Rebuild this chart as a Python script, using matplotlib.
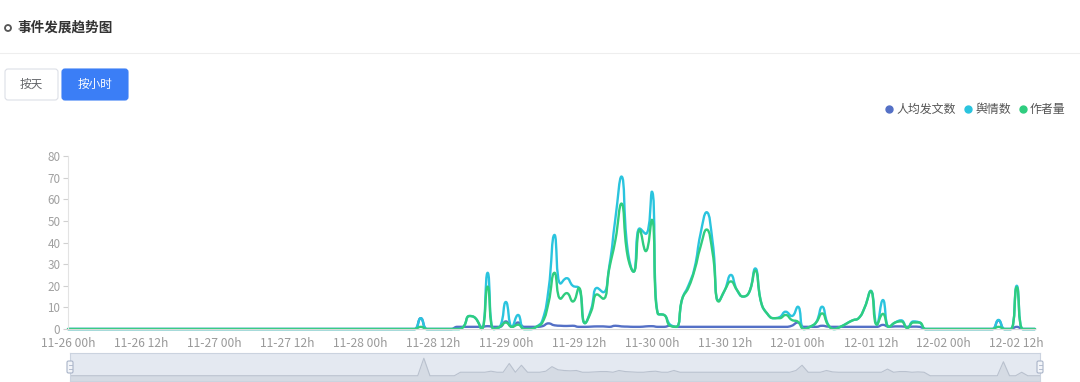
import numpy as np
import pandas as pd
import matplotlib
matplotlib.use("Agg")
import matplotlib.pyplot as plt
from matplotlib.path import Path
from matplotlib.patches import PathPatch, FancyBboxPatch, Circle

plt.rcParams['font.family'] = ['Noto Sans CJK SC', 'DejaVu Sans']

# ---------------- data ----------------
title = "事件发展趋势图"
buttons = ["按天", "按小时"]
series_names = ["人均发文数", "舆情数", "作者量"]
series_colors = ["#5470c6", "#2ac4de", "#2fcd7f"]

hours = pd.date_range("2023-11-26 00:00", periods=160, freq="h")
categories = [t.strftime("%m-%d %Hh") for t in hours]
tick_labels = ["11-26 00h", "11-26 12h", "11-27 00h", "11-27 12h", "11-28 00h",
               "11-28 12h", "11-29 00h", "11-29 12h", "11-30 00h", "11-30 12h",
               "12-01 00h", "12-01 12h", "12-02 00h", "12-02 12h"]
y_ticks = [0, 10, 20, 30, 40, 50, 60, 70, 80]

posts_per_author = (
    [0] * 48 +
    [0, 0, 0, 0, 0, 0, 0, 0, 0, 0, 5, 0] +
    [0, 0, 0, 0, 1, 1, 1, 1, 1, 1.3, 1, 1] +
    [3.5, 1, 3, 1, 1, 1, 1.3, 2.6, 1.7, 1.5, 1.4, 1.5] +
    [1, 1, 1.1, 1.2, 1.2, 1, 1.5, 1.2, 1.1, 1, 1, 1.2] +
    [1.3, 1, 1, 1.5, 1, 1, 1, 1, 1, 1, 1, 1] +
    [1, 1, 1, 1, 1, 1, 1, 1, 1, 1, 1, 1.5] +
    [3, 1, 1, 1, 1.5, 1.1, 1, 1, 1, 1, 1, 1] +
    [1, 1, 1.9, 1, 1.2, 1.2, 1, 1.1, 1, 0, 0, 0] +
    [0, 0, 0, 0, 0, 0, 0, 0, 0, 4, 0, 0] +
    [1, 0, 0, 0]
)
mentions = (
    [0] * 48 +
    [0, 0, 0, 0, 0, 0, 0, 0, 0, 0, 5, 0] +
    [0, 0, 0, 0, 0, 1, 6, 5, 0, 26, 0, 1] +
    [12.5, 1, 6.5, 0, 0, 1, 4, 18, 43.5, 21, 23.5, 20] +
    [19, 2.7, 9, 19, 17, 29, 51, 70.5, 37, 26.5, 46.5, 44] +
    [63.5, 7, 6.5, 2, 1, 14, 20, 28, 44, 54, 40, 13] +
    [18, 25, 18, 15, 17, 28, 12, 7, 5, 5.5, 8, 6] +
    [10.3, 0, 1, 3, 10.3, 2, 0, 1, 2.5, 4, 5, 10] +
    [17.7, 2, 13.4, 1, 3, 4, 0.5, 3.5, 3, 0, 0, 0] +
    [0, 0, 0, 0, 0, 0, 0, 0, 0, 4.2, 0, 0] +
    [20, 0, 0, 0]
)
authors = (
    [0] * 48 +
    [0, 0, 0, 0, 0, 0, 0, 0, 0, 0, 1, 0] +
    [0, 0, 0, 0, 0, 1, 6, 5, 0, 19.6, 0, 1] +
    [3, 1, 2, 0, 0, 1, 3, 12, 26, 14, 16.6, 12.7] +
    [19, 2.7, 8, 16, 14, 28, 41, 58, 34, 26.5, 45.8, 36] +
    [50.5, 7, 6.5, 1.5, 1, 14, 19, 27, 38, 46, 35, 12.7] +
    [18, 22, 18, 15, 17, 27, 12, 7, 5, 5, 6.5, 4.2] +
    [3.4, 0, 1, 3, 7.2, 1.8, 0, 1, 2.5, 4, 5, 10] +
    [17.5, 2, 7, 1, 3, 3.5, 0.5, 3, 3, 0, 0, 0] +
    [0, 0, 0, 0, 0, 0, 0, 0, 0, 1, 0, 0] +
    [19.3, 0, 0, 0]
)
series_values = [posts_per_author, mentions, authors]

# ---------------- figure ----------------
W, H = 1080, 382
fig = plt.figure(figsize=(W / 100, H / 100), dpi=100)
fig.patch.set_facecolor("white")

# pixel overlay for page decorations
bg = fig.add_axes([0, 0, 1, 1])
bg.set_xlim(0, W)
bg.set_ylim(H, 0)
bg.axis("off")

bg.add_patch(Circle((8, 28), 3.0, facecolor="white", edgecolor="#555555", lw=1.3))
bg.text(17, 28, title, ha="left", va="center", fontsize=9.8, fontweight="bold", color="#333333")
bg.plot([0, W], [53, 53], color="#eeeeee", lw=0.8)

btn_boxes = [(5, 69, 53, 31), (62, 69, 66, 31)]
btn_face = ["white", "#3b7ef6"]
btn_edge = ["#dcdfe6", "#3b7ef6"]
btn_text = ["#606266", "white"]
for lbl, (bx, by, bw, bh), fc, ec, tc in zip(buttons, btn_boxes, btn_face, btn_edge, btn_text):
    bg.add_patch(FancyBboxPatch((bx, by), bw, bh, boxstyle="round,pad=0,rounding_size=3",
                                facecolor=fc, edgecolor=ec, lw=0.8))
    bg.text(bx + bw / 2, by + bh / 2, lbl, ha="center", va="center", fontsize=8.4, color=tc)

# legend
leg_x = [889, 968, 1023]
for name, col, lx in zip(series_names, series_colors, leg_x):
    bg.plot([lx], [109], marker="o", ms=5, color=col, mec=col)
    bg.text(lx + 7, 109, name, ha="left", va="center", fontsize=8.6, color="#555555")

# ---------------- main chart ----------------
x0, x1 = 68, 1035
y0, y1 = 329, 156
ax = fig.add_axes([x0 / W, 1 - y0 / H, (x1 - x0) / W, (y0 - y1) / H])
ax.patch.set_alpha(0)
idx = np.arange(len(categories))
ax.set_xlim(0, len(categories) - 1)
ax.set_ylim(0, 80)


def smooth_path(axis, xs, ys, smooth=0.5):
    t = axis.transData
    p0 = t.transform((0, 0))
    p1 = t.transform((1, 1))
    sx, sy = p1[0] - p0[0], p1[1] - p0[1]
    P = np.column_stack([np.asarray(xs, float) * sx, np.asarray(ys, float) * sy])
    n = len(P)
    verts = [P[0]]
    codes = [Path.MOVETO]
    cp0 = P[0].copy()
    for k in range(1, n):
        x, y = P[k]
        if k == n - 1:
            cp1 = P[k].copy()
            nxt = None
        else:
            px, py = P[k - 1]
            nx, ny = P[k + 1]
            vx, vy = nx - px, ny - py
            d0 = np.hypot(x - px, y - py)
            d1 = np.hypot(nx - x, ny - y)
            r = d1 / (d0 + d1)
            ncx = x + vx * smooth * r
            ncy = y + vy * smooth * r
            ncx = max(min(ncx, max(nx, x)), min(nx, x))
            ncy = max(min(ncy, max(ny, y)), min(ny, y))
            vx, vy = ncx - x, ncy - y
            c1x = x - vx * d0 / d1
            c1y = y - vy * d0 / d1
            c1x = max(min(c1x, max(px, x)), min(px, x))
            c1y = max(min(c1y, max(py, y)), min(py, y))
            vx, vy = x - c1x, y - c1y
            ncx = x + vx * d1 / d0
            ncy = y + vy * d1 / d0
            cp1 = np.array([c1x, c1y])
            nxt = np.array([ncx, ncy])
        verts += [cp0, cp1, P[k]]
        codes += [Path.CURVE4] * 3
        cp0 = nxt
    V = np.array(verts)
    V[:, 0] /= sx
    V[:, 1] /= sy
    return Path(V, codes)


for vals, col in zip(series_values, series_colors):
    ax.add_patch(PathPatch(smooth_path(ax, idx, vals), facecolor="none", edgecolor=col,
                           lw=1.7, clip_on=False, capstyle="round", joinstyle="round"))

for s in ["top", "right"]:
    ax.spines[s].set_visible(False)
ax.spines["left"].set_color("#e3e3e3")
ax.spines["bottom"].set_color("#d8d8d8")
ax.set_yticks(y_ticks)
ax.set_yticklabels([str(v) for v in y_ticks])
ax.tick_params(axis="y", direction="out", length=3.5, width=0.8, color="#d0d0d0",
               labelcolor="#a0a0a0", labelsize=8.4, pad=2)
tick_pos = [categories.index(t) for t in tick_labels]
ax.set_xticks(tick_pos)
ax.set_xticklabels(tick_labels)
ax.tick_params(axis="x", length=0, labelcolor="#9a9a9a", labelsize=8.7, pad=5.5)

# ---------------- data zoom slider ----------------
sx0, sx1, sy0, sy1 = 70, 1040, 353, 381
axs = fig.add_axes([sx0 / W, 1 - sy1 / H, (sx1 - sx0) / W, (sy1 - sy0) / H])
axs.set_facecolor("#e4e9f1")
vmin, vmax = min(posts_per_author), max(posts_per_author)
off = (vmax - vmin) * 0.3
axs.set_xlim(0, len(categories) - 1)
axs.set_ylim(vmin - off, vmax + off)
axs.fill_between(idx, posts_per_author, vmin - off, color="#d5dbe4", lw=0)
axs.plot(idx, posts_per_author, color="#b9c1ce", lw=0.8)
axs.set_xticks([])
axs.set_yticks([])
for s in axs.spines.values():
    s.set_color("#cbd3df")
    s.set_linewidth(0.8)

for hx in (sx0, sx1):
    bg.add_patch(FancyBboxPatch((hx - 3, 361), 6, 12, boxstyle="round,pad=0,rounding_size=1.5",
                                facecolor="#f3f5f9", edgecolor="#a9b4c8", lw=0.8, zorder=5))
    bg.plot([hx - 1.5, hx + 1.5], [365, 365], color="#a9b4c8", lw=0.6, zorder=6)
    bg.plot([hx - 1.5, hx + 1.5], [369, 369], color="#a9b4c8", lw=0.6, zorder=6)
bg.set_zorder(3)
bg.patch.set_alpha(0)

fig.savefig("out.png", dpi=100, facecolor="white")
